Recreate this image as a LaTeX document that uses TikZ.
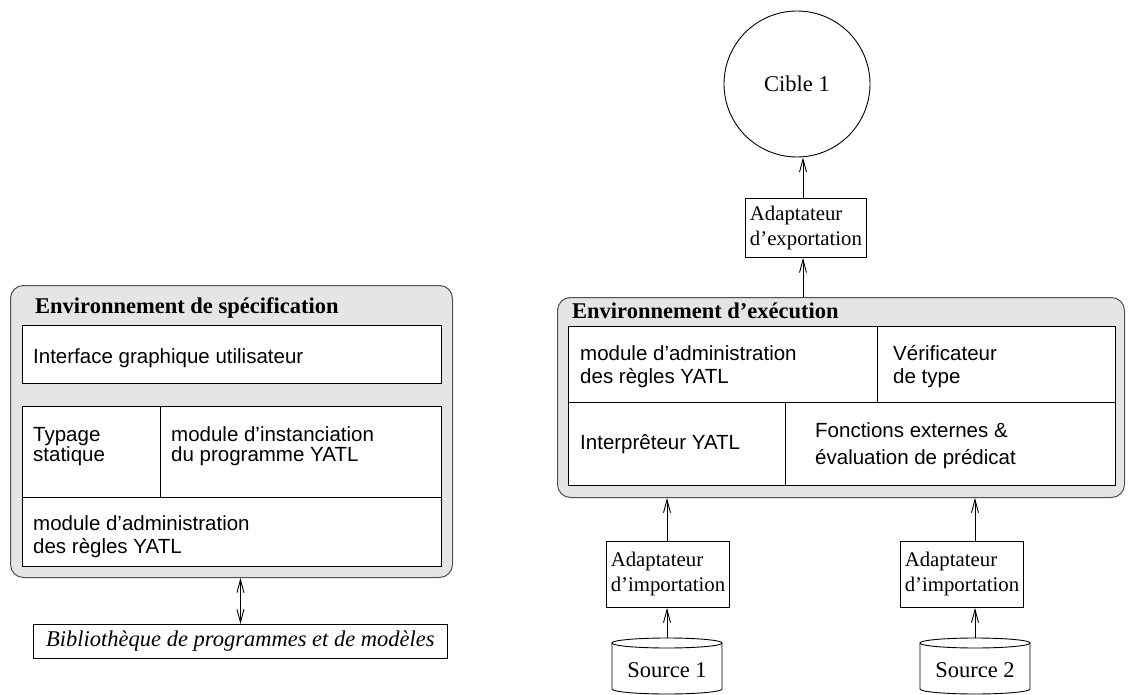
\documentclass[tikz,border=0pt]{standalone}
\usepackage{fontspec}
\setmainfont{Liberation Serif}
\setsansfont{Liberation Sans}
\usetikzlibrary{arrows.meta}
\definecolor{panelfill}{HTML}{E5E5E5}
\definecolor{panelline}{HTML}{505050}
% stacked lines whose baseline is the first line's baseline
\newcommand{\twolines}[1]{\begin{tabular}[t]{@{}l@{}}#1\end{tabular}}
\begin{document}
\begin{tikzpicture}[x=1pt,y=-1pt,
  panel/.style={draw=panelline, fill=panelfill, line width=1pt, rounded corners=13pt,
    anchor=north west, inner sep=0pt},
  cell/.style={draw=black, fill=white, line width=0.9pt, anchor=north west, inner sep=0pt},
  sep/.style={draw=black, line width=0.9pt},
  sanslabel/.style={font=\sffamily\fontsize{20.5}{23}\selectfont, anchor=base west,
    inner sep=0pt},
  title/.style={font=\bfseries\fontsize{22.5}{24}\selectfont, anchor=base west, inner sep=0pt},
  adapter/.style={draw=black, fill=white, line width=0.9pt, font=\fontsize{20.8}{25}\selectfont,
    align=left, inner sep=0pt, anchor=north west},
  srclabel/.style={font=\fontsize{22.5}{25}\selectfont, anchor=base, inner sep=0pt},
  cyl/.style={draw=black, fill=white, line width=0.9pt},
  tip/.tip={Straight Barb[length=13pt,width=7pt,line width=0.9pt]},
  link/.style={line width=0.9pt, -tip},
  dblink/.style={line width=0.9pt, tip-tip},
]
\useasboundingbox (0,0) rectangle (1130,695);

% ---------- specification environment ----------
\node[panel, minimum width=442pt, minimum height=292pt] (spec) at (10,285) {};
\node[title] (spectitle) at (35,313) {Environnement de spécification};
\node[cell, minimum width=419pt, minimum height=58pt] (gui) at (22,325) {};
\node[sanslabel] (guitext) at (33,363) {Interface graphique utilisateur};
\node[cell, minimum width=419pt, minimum height=160pt] (core) at (22,406) {};
\draw[sep] (22,497) -- (441,497);
\draw[sep] (160,406) -- (160,497);
\node[sanslabel] (typage) at (33,441) {\twolines{Typage\\[-3pt]statique}};
\node[sanslabel] (inst) at (171,441) {\twolines{module d’instanciation\\[-3pt]du programme YATL}};
\node[sanslabel] (admin) at (33,530) {\twolines{module d’administration\\des règles YATL}};

\node[draw=black, fill=white, line width=0.9pt, anchor=north west, inner sep=0pt,
  minimum width=414pt, minimum height=34pt,
  font=\itshape\fontsize{22.5}{24}\selectfont] (lib) at (33,624)
  {Bibliothèque de programmes et de modèles};
\draw[dblink] (lib.north |- spec.south) -- (lib.north);

% ---------- execution environment ----------
\node[panel, minimum width=567pt, minimum height=200pt] (exec) at (557,297) {};
\node[title] (exectitle) at (572,318) {Environnement d’exécution};
\node[cell, minimum width=547pt, minimum height=159pt] (execcore) at (568,326) {};
\draw[sep] (568,402) -- (1115,402);
\draw[sep] (877,326) -- (877,402);
\draw[sep] (785,402) -- (785,485);
\node[sanslabel] (admin2) at (580,360) {\twolines{module d’administration\\des règles YATL}};
\node[sanslabel] (verif) at (893,360) {\twolines{Vérificateur\\de type}};
\node[sanslabel] (interp) at (580,449) {Interprêteur YATL};
\node[sanslabel] (fonct) at (815,437) {\twolines{Fonctions externes \&\\[4pt]évaluation de prédicat}};

% ---------- target side ----------
\node[draw=black, circle, line width=0.9pt, minimum size=146pt, inner sep=0pt,
  font=\fontsize{22.5}{24}\selectfont] (cible) at (797,84) {\raisebox{-5pt}{Cible 1}};
\node[adapter, minimum width=121pt, minimum height=59pt] (exp) at (745,198)
  {Adaptateur\\d’exportation};
\coordinate (ax0) at (803,0);
\draw[link] (exec.north -| ax0) -- (exp.south -| ax0);
\draw[link] (exp.north -| ax0) -- (cible.south -| ax0);

% ---------- source side ----------
\node[adapter, minimum width=123pt, minimum height=66pt] (imp1) at (606,541)
  {Adaptateur\\d’importation};
\node[adapter, minimum width=123pt, minimum height=66pt] (imp2) at (900,541)
  {Adaptateur\\d’importation};

% source cylinders, cut by the lower edge
\draw[cyl] (612,643) -- (612,689) arc[start angle=180, end angle=0, x radius=55, y radius=5] -- (722,643);
\draw[cyl] (667,643) ellipse[x radius=55, y radius=5];
\node[srclabel] (src1) at (667,677) {Source 1};
\draw[cyl] (920,643) -- (920,689) arc[start angle=180, end angle=0, x radius=55, y radius=5] -- (1030,643);
\draw[cyl] (975,643) ellipse[x radius=55, y radius=5];
\node[srclabel] (src2) at (975,677) {Source 2};

\coordinate (s1) at (667,638);
\coordinate (s2) at (975,638);
\draw[link] (s1) -- (imp1.south -| s1);
\draw[link] (s2) -- (imp2.south -| s2);
\draw[link] (imp1.north -| s1) -- (exec.south -| s1);
\draw[link] (imp2.north -| s2) -- (exec.south -| s2);
\end{tikzpicture}
\end{document}
